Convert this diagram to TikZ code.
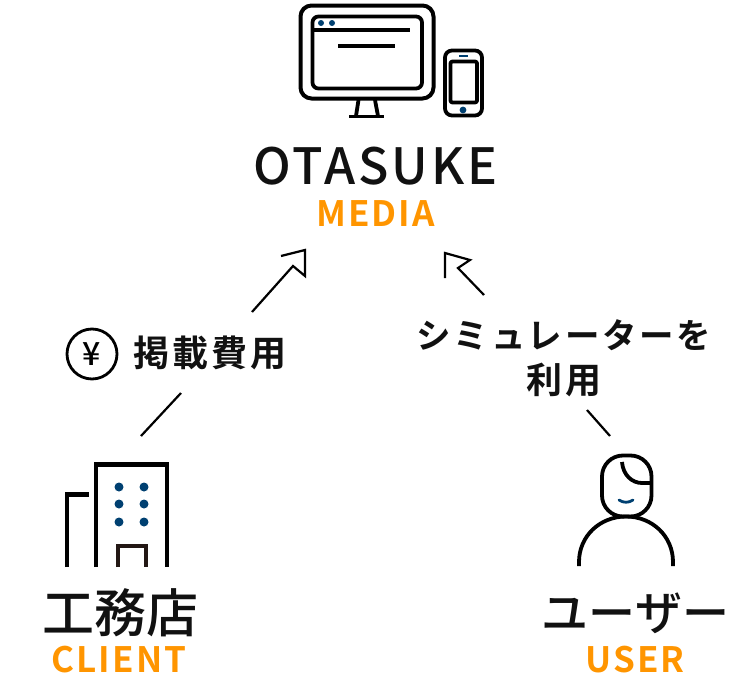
\documentclass[tikz,border=0pt]{standalone}
\usepackage{fontspec}
\setmainfont{Noto Sans CJK JP}
\newfontfamily\medf[LetterSpace=6]{Noto Sans CJK JP Medium}
\newfontfamily\cjkf[LetterSpace=8]{Noto Sans CJK JP Bold}
\newfontfamily\tallf{Noto Sans CJK JP Medium}
\newfontfamily\boldf[LetterSpace=6]{Noto Sans CJK JP Bold}
\definecolor{navy}{HTML}{004071}
\definecolor{orangeT}{HTML}{FF9500}
\definecolor{inkT}{HTML}{111111}
\definecolor{doorC}{HTML}{231815}
\tikzset{
  icon/.style={draw=black,line width=#1,line join=round},
  icon/.default=3.5pt,
  conn/.style={draw=black,line width=2.2pt,line join=miter},
  dotn/.style={fill=navy,draw=none},
  title/.style={inner sep=0pt,text=inkT,anchor=center},
  sub/.style={inner sep=0pt,text=orangeT,anchor=center},
  lab/.style={inner sep=0pt,text=inkT,anchor=center},
}
\begin{document}
\begin{tikzpicture}[x=1pt,y=-1pt]
\useasboundingbox (0,0) rectangle (750,680);
% monitor
\draw[icon=4pt,rounded corners=11pt] (300.5,5.5) rectangle (433.5,98.5);
\draw[icon=3.8pt,rounded corners=6pt] (312.5,16.5) rectangle (422,88.5);
\draw[icon=3.5pt] (313,30) -- (409.5,30);
\draw[icon=3.5pt] (338,46) -- (395,46);
\fill[dotn] (321,23) circle (3pt) (332,23) circle (3pt);
\draw[icon=3.8pt] (358.5,100) -- (356,116) (375,100) -- (378,116);
\draw[icon=3.5pt] (349,116.5) -- (384,116.5);
% phone
\draw[icon=3.8pt,rounded corners=7pt] (445,50.5) rectangle (482,115.5);
\draw[icon=3.8pt,rounded corners=2pt] (450.5,61.5) rectangle (477,102.5);
\draw[draw=navy,line width=2.5pt] (459,56) -- (468,56);
\fill[dotn] (463,110) circle (3.4pt);
% texts top
\node[title,font=\medf\fontsize{50}{50}\selectfont] (otasuke) at (375.5,166) {OTASUKE};
\node[sub,font=\boldf\fontsize{35}{35}\selectfont] (media) at (375.5,214) {MEDIA};
% arrows
\coordinate (a1) at (252,312);
\coordinate (a2) at (293,266);
\coordinate (a3) at (305,276);
\coordinate (a4) at (305,250);
\coordinate (a5) at (281,256);
\draw[conn] (a1) -- (a2) -- (a3) -- (a4) -- (a5);
\coordinate (b1) at (484,295);
\coordinate (b2) at (458,268);
\coordinate (b3) at (470,260);
\coordinate (b4) at (445,253);
\coordinate (b5) at (445,278);
\draw[conn] (b1) -- (b2) -- (b3) -- (b4) -- (b5);
\coordinate (c1) at (181,393);
\coordinate (c2) at (141,436);
\draw[conn] (c1) -- (c2);
\coordinate (d1) at (587,410);
\coordinate (d2) at (610,436);
\draw[conn] (d1) -- (d2);
% labels
\node[draw=black,line width=2.8pt,circle,minimum size=50pt,inner sep=0pt,font=\tallf\fontsize{32}{32}\selectfont] (yen) at (92,354) {¥};
\node[lab,font=\cjkf\fontsize{36}{36}\selectfont] (fee) at (210,353) {掲載費用};
\node[lab,font=\cjkf\fontsize{34.5}{34.5}\selectfont] (sim) at (564,335) {シミュレーターを};
\node[lab,font=\cjkf\fontsize{36}{36}\selectfont] (use) at (564,380) {利用};
% building
\draw[icon=4.2pt,line join=miter] (96,567) -- (96,464.5) -- (167,464.5) -- (167,567);
\draw[icon=4.2pt,line join=miter] (67,567) -- (67,494.5) -- (89,494.5);
\draw[draw=doorC,line width=4.2pt,line join=miter] (118,567) -- (118,546) -- (146,546) -- (146,567);
\foreach \px in {119,144} \foreach \py in {487,504,522} \fill[dotn] (\px,\py) circle (4.5pt);
\node[title,font=\tallf\fontsize{52}{52}\selectfont] (client) at (120,613) {工務店};
\node[sub,font=\boldf\fontsize{35}{35}\selectfont] (clientEn) at (119,660) {CLIENT};
% user
\draw[icon=3.8pt,rounded corners=21pt] (602,455.5) rectangle (651.5,516.5);
\draw[icon=3.8pt] (622,462) .. controls (623,475) and (632,483) .. (642,483) -- (651,483);
\draw[draw=navy,line width=2.8pt,line cap=round] (619,500) .. controls (623,503) and (629,503) .. (633,500);
\draw[icon=3.8pt] (579,566) -- (579,562) .. controls (579,536) and (600,516.5) .. (626,516.5) .. controls (652,516.5) and (673,536) .. (673,562) -- (673,566);
\node[title,font=\tallf\fontsize{47}{47}\selectfont] (user) at (635.5,613) {ユーザー};
\node[sub,font=\boldf\fontsize{35}{35}\selectfont] (userEn) at (635,660) {USER};
\end{tikzpicture}
\end{document}
